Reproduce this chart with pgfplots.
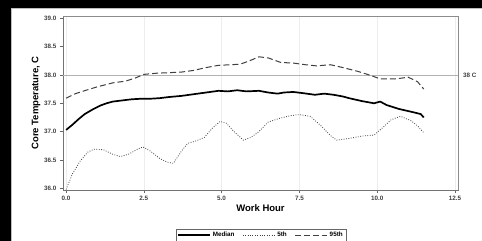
\documentclass[border=0pt]{standalone}
\usepackage{pgfplots}
\pgfplotsset{compat=1.18}
\usepackage{fontspec}
\setmainfont{Liberation Sans}
\begin{document}
\begin{tikzpicture}[x=1pt,y=1pt]
\useasboundingbox (0,0) rectangle (482,241);
\fill[black] (0,0) rectangle (482,241);
\fill[white] (11,0) rectangle (482,233);
\draw[black!25,line width=0.6pt] (11.5,-1) -- (11.5,232.5) -- (483,232.5);
\begin{axis}[
  at={(63pt,51pt)}, anchor=south west,
  scale only axis, width=395pt, height=174pt,
  xmin=-0.1, xmax=12.6, ymin=35.97, ymax=39.04,
  xtick={0,2.5,5,7.5,10,12.5},
  ytick={36,36.5,37,37.5,38,38.5,39},
  xticklabel style={/pgf/number format/.cd,fixed,fixed zerofill,precision=1},
  yticklabel style={/pgf/number format/.cd,fixed,fixed zerofill,precision=1},
  /pgf/number format/assume math mode=true,
  ticklabel style={font=\fontsize{6.3}{7}\selectfont\bfseries, text=black!75},
  tick align=outside, tick pos=left,
  major tick length=3pt,
  tick style={black!60, line width=0.5pt},
  axis line style={black!55, line width=0.8pt},
  xmajorgrids, grid style={black!7, line width=0.5pt},
  xlabel={Work Hour}, ylabel={Core Temperature, C},
  label style={font=\fontsize{9.5}{10}\selectfont\bfseries},
  xlabel style={yshift=3pt},
  ylabel style={yshift=-3pt},
  clip=false,
  legend columns=3,
  legend style={at={(0.501,-0.26)}, anchor=center, draw=black!60, line width=0.5pt,
    font=\fontsize{6.3}{7}\selectfont\bfseries, inner sep=1.2pt, row sep=0pt,
    /tikz/every even column/.append style={column sep=6pt}},
  legend image code/.code={\draw[#1] (0pt,0pt) -- (32pt,0pt);},
]
\addplot[black!30, line width=0.8pt, forget plot] coordinates {(-0.1,38) (12.6,38)};
\addplot[black, line width=1.7pt, line join=round] coordinates {
(0.0,37.03) (0.2,37.12) (0.4,37.22) (0.6,37.31) (0.85,37.39) (1.1,37.46) (1.3,37.50)
(1.5,37.53) (1.8,37.55) (2.1,37.57) (2.4,37.58) (2.7,37.58) (3.0,37.59) (3.3,37.61)
(3.7,37.63) (4.1,37.66) (4.5,37.69) (4.9,37.72) (5.2,37.71) (5.5,37.73) (5.8,37.71)
(6.2,37.72) (6.5,37.69) (6.8,37.67) (7.0,37.69) (7.3,37.70) (7.6,37.68) (8.0,37.65)
(8.3,37.67) (8.6,37.65) (8.9,37.62) (9.1,37.59) (9.5,37.54) (9.9,37.50) (10.1,37.53)
(10.3,37.47) (10.7,37.40) (11.1,37.35) (11.4,37.31) (11.5,37.25)};
\addlegendentry{Median}
\addplot[black!75, line width=0.8pt, dash pattern=on 0.8pt off 1.6pt] coordinates {
(0.0,35.98) (0.2,36.25) (0.45,36.48) (0.7,36.64) (0.9,36.69) (1.2,36.68) (1.5,36.60)
(1.75,36.56) (2.0,36.60) (2.3,36.69) (2.47,36.73) (2.7,36.66) (3.0,36.53) (3.25,36.46)
(3.45,36.44) (3.7,36.65) (3.9,36.79) (4.2,36.84) (4.45,36.90) (4.7,37.06) (4.95,37.18)
(5.15,37.15) (5.4,37.00) (5.7,36.85) (5.95,36.90) (6.2,37.00) (6.5,37.17) (6.9,37.24)
(7.2,37.28) (7.5,37.30) (7.85,37.27) (8.2,37.10) (8.5,36.93) (8.7,36.85) (9.1,36.88)
(9.5,36.92) (9.9,36.94) (10.2,37.08) (10.45,37.21) (10.75,37.27) (11.1,37.19)
(11.3,37.10) (11.5,36.98)};
\addlegendentry{5th}
\addplot[black!75, line width=1pt, dash pattern=on 6pt off 3pt] coordinates {
(0.0,37.59) (0.3,37.67) (0.64,37.73) (1.0,37.79) (1.5,37.86) (1.9,37.89) (2.2,37.94)
(2.5,38.01) (2.9,38.03) (3.3,38.04) (3.7,38.05) (4.1,38.08) (4.5,38.13) (4.9,38.17)
(5.3,38.18) (5.6,38.19) (5.9,38.25) (6.2,38.32) (6.5,38.30) (6.9,38.22) (7.3,38.21)
(7.7,38.18) (8.05,38.16) (8.5,38.18) (8.9,38.13) (9.4,38.06) (9.8,37.99) (10.1,37.93)
(10.6,37.93) (11.0,37.96) (11.3,37.88) (11.5,37.75)};
\addlegendentry{95th}
\draw[black!45, line width=0.8pt] (rel axis cs:0,1) -- (rel axis cs:1,1) -- (rel axis cs:1,0);
\node[anchor=west, font=\fontsize{6.3}{7}\selectfont\bfseries, text=black!75, inner sep=0pt] at (axis cs:12.6,38) {\hspace{5pt}38 C};
\end{axis}
\end{tikzpicture}
\end{document}
